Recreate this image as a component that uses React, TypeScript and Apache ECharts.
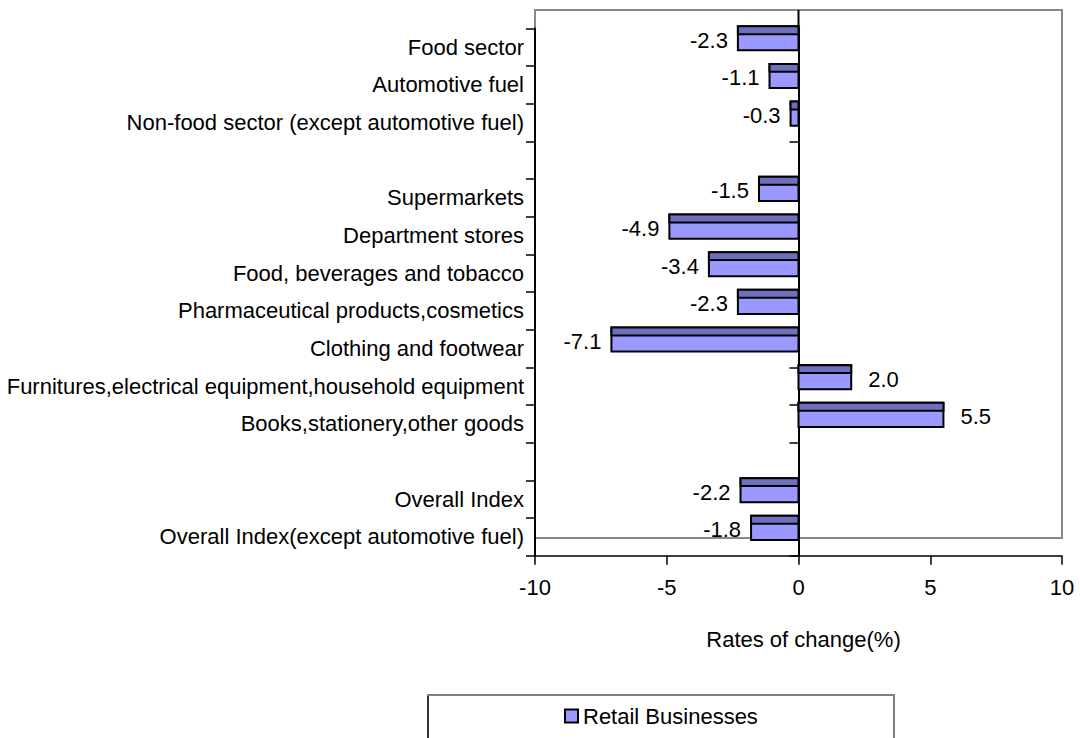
import React, { useEffect, useRef } from "react";
import * as echarts from "echarts";

const categories: string[] = [
  "Food sector",
  "Automotive fuel",
  "Non-food sector (except automotive fuel)",
  " ",
  "Supermarkets",
  "Department stores",
  "Food, beverages and tobacco",
  "Pharmaceutical products,cosmetics",
  "Clothing and footwear",
  "Furnitures,electrical equipment,household equipment",
  "Books,stationery,other goods",
  "  ",
  "Overall Index",
  "Overall Index(except automotive fuel)",
];

const values: (number | null)[] = [
  -2.3, -1.1, -0.3, null, -1.5, -4.9, -3.4, -2.3, -7.1, 2.0, 5.5, null, -2.2, -1.8,
];

const xTicks = { min: -10, max: 10, interval: 5 };
const seriesName = "Retail Businesses";
const axisTitle = "Rates of change(%)";

const FONT = "'Liberation Sans', Arial, sans-serif";

export default function App() {
  const ref = useRef<HTMLDivElement>(null);

  useEffect(() => {
    if (!ref.current) return;
    const chart = echarts.init(ref.current, undefined, { renderer: "svg" });

    const data = categories
      .map((_, i) => [values[i], i])
      .filter((d) => d[0] !== null);

    const option: any = {
      animation: false,
      backgroundColor: "#ffffff",
      grid: {
        left: 535,
        right: 18,
        top: 28.5,
        bottom: 182.3,
        containLabel: false,
        outerBoundsMode: "none",
      },
      xAxis: {
        type: "value",
        min: xTicks.min,
        max: xTicks.max,
        interval: xTicks.interval,
        axisLine: { show: true, onZero: false, lineStyle: { color: "#000", width: 1.5 } },
        axisTick: { show: true, length: 9, lineStyle: { color: "#000", width: 1.5 } },
        splitLine: { show: false },
        axisLabel: { color: "#000", fontSize: 22, fontFamily: FONT, margin: 21 },
        name: axisTitle,
        nameLocation: "middle",
        nameGap: 73,
        nameTextStyle: { color: "#000", fontSize: 22, fontFamily: FONT, padding: [0, 0, 0, 10] },
      },
      yAxis: [
        {
          type: "category",
          data: categories,
          inverse: true,
          position: "left",
          axisLine: { show: true, onZero: false, lineStyle: { color: "#000", width: 2 } },
          axisTick: { show: true, length: 9, alignWithLabel: false, lineStyle: { color: "#000", width: 1.5 } },
          axisLabel: { color: "#000", fontSize: 22, fontFamily: FONT, margin: 11, interval: 0 },
          splitLine: { show: false },
        },
        {
          type: "category",
          data: categories,
          inverse: true,
          position: "left",
          axisLine: { show: true, onZero: true, lineStyle: { color: "#000", width: 2 } },
          axisTick: { show: true, length: 9, alignWithLabel: false, interval: 0, lineStyle: { color: "#000", width: 1.5 } },
          axisLabel: { show: false },
          splitLine: { show: false },
        },
      ],
      legend: {
        data: [
          {
            name: seriesName,
            icon: "rect",
            itemStyle: { color: "#9999ff", borderColor: "#000", borderWidth: 2 },
          },
        ],
        left: 564,
        top: 705,
        padding: 0,
        itemWidth: 13,
        itemHeight: 13,
        textStyle: { color: "#000", fontSize: 22, fontFamily: FONT },
        selectedMode: false,
      },
      graphic: [
        {
          type: "rect",
          z: -10,
          shape: { x: 535, y: 10, width: 527, height: 528 },
          style: { fill: "none", stroke: "#888888", lineWidth: 2 },
        },
        {
          type: "rect",
          z: -10,
          shape: { x: 428, y: 695, width: 466, height: 60 },
          style: { fill: "#fff", stroke: "#808080", lineWidth: 2 },
        },
        {
          type: "line",
          z: -9,
          shape: { x1: 428, y1: 696, x2: 428, y2: 738 },
          style: { stroke: "#333", lineWidth: 2 },
        },
      ],
      series: [
        {
          name: seriesName,
          type: "custom",
          xAxisIndex: 0,
          yAxisIndex: 0,
          encode: { x: 0, y: 1 },
          itemStyle: { color: "#9999ff" },
          data,
          renderItem: (params: any, api: any) => {
            const v = api.value(0);
            const idx = api.value(1);
            const p0 = api.coord([0, idx]);
            const p1 = api.coord([v, idx]);
            const band = api.size([0, 1])[1];
            const bandTop = p0[1] - band / 2;
            const x = Math.min(p0[0], p1[0]);
            const w = Math.abs(p1[0] - p0[0]);
            const top = bandTop - band * 0.06;
            const h = band * 0.64;
            const stripe = band * 0.21;
            return {
              type: "group",
              children: [
                {
                  type: "rect",
                  shape: { x, y: top, width: w, height: h },
                  style: { fill: "#9999ff", stroke: "#000", lineWidth: 2 },
                },
                {
                  type: "rect",
                  shape: { x, y: top, width: w, height: stripe },
                  style: { fill: "#6f6fbf", stroke: "#000", lineWidth: 2 },
                },
                {
                  type: "text",
                  x: v < 0 ? x - 10 : x + w + 17,
                  y: bandTop + band * 0.31,
                  style: {
                    text: v.toFixed(1),
                    fill: "#000",
                    fontSize: 22,
                    fontFamily: FONT,
                    align: v < 0 ? "right" : "left",
                    verticalAlign: "middle",
                  },
                },
              ],
            };
          },
        },
      ],
    };

    chart.setOption(option);

    const x0 = chart.convertToPixel({ xAxisIndex: 0 }, 0) as number;
    const yTop = chart.convertToPixel({ yAxisIndex: 0 }, 0) as number;
    const band = 527.2 / categories.length;
    chart.setOption({
      graphic: [
        option.graphic[0],
        option.graphic[1],
        option.graphic[2],
        {
          type: "line",
          z: 5,
          shape: { x1: x0, y1: 10, x2: x0, y2: yTop - band / 2 },
          style: { stroke: "#000", lineWidth: 2 },
        },
      ],
    });

    return () => chart.dispose();
  }, []);

  return (
    <div
      ref={ref}
      style={{ position: "fixed", left: 0, top: 0, width: 1080, height: 738 }}
    />
  );
}
